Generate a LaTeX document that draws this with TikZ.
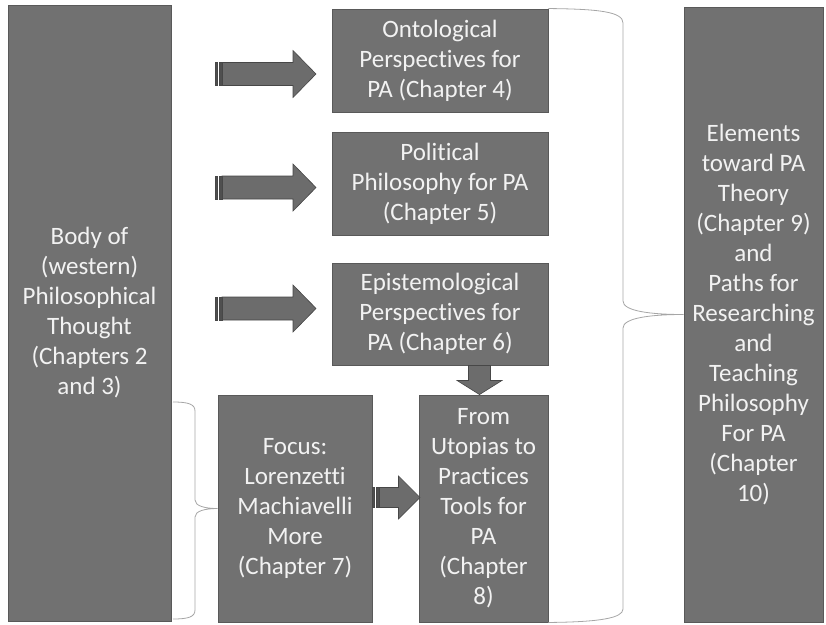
\documentclass[tikz,border=0pt]{standalone}
\usepackage{fontspec}
\setmainfont{Carlito}[Ligatures={NoCommon}]
\usetikzlibrary{calc}
\definecolor{boxfill}{HTML}{717171}
\definecolor{boxline}{HTML}{595959}
\definecolor{txtcol}{HTML}{F2F2F2}
\definecolor{arrfill}{HTML}{6C6C6C}
\definecolor{arrline}{HTML}{474747}
\definecolor{stripe}{HTML}{4F4F4F}
\definecolor{bracecol}{HTML}{A6A6A6}
\tikzset{
  box/.style={draw=boxline, fill=boxfill, line width=0.9pt, text=txtcol, align=center,
    inner sep=0pt, font=\fontsize{25}{30}\selectfont},
  blockarrow/.style={draw=arrline, fill=arrfill, line width=0.6pt, line join=miter},
  stripebar/.style={draw=arrline, fill=stripe, line width=0.4pt},
  bracestyle/.style={draw=bracecol, line width=0.8pt}
}
% right-pointing striped block arrow: #1 tail x, #2 tip x, #3 centre y, #4 body half, #5 head half, #6 head length
\newcommand{\StripedRightArrow}[6]{%
  \filldraw[blockarrow] (#1+7,#3-#4) -- (#2-#6,#3-#4) -- (#2-#6,#3-#5) -- (#2,#3)
     -- (#2-#6,#3+#5) -- (#2-#6,#3+#4) -- (#1+7,#3+#4) -- cycle;
  \filldraw[stripebar] (#1,#3-#4) rectangle (#1+2.6,#3+#4);
  \filldraw[stripebar] (#1+4,#3-#4) rectangle (#1+7,#3+#4);
}
\begin{document}
\begin{tikzpicture}[x=1pt,y=-1pt]
\useasboundingbox (0,0) rectangle (826,624);

% boxes
\node[box, minimum width=163pt, minimum height=616pt] (body) at (89.5,313)
  {Body of\\(western)\\Philosophical\\Thought\\(Chapters 2\\and 3)};
\node[box, minimum width=216pt, minimum height=103pt] (onto) at (440,60.5)
  {Ontological\\Perspectives for\\PA (Chapter 4)};
\node[box, minimum width=216pt, minimum height=103pt] (poli) at (440,183.5)
  {Political\\Philosophy for PA\\(Chapter 5)};
\node[box, minimum width=216pt, minimum height=102pt] (epis) at (440,314)
  {Epistemological\\Perspectives for\\PA (Chapter 6)};
\node[box, minimum width=154pt, minimum height=227pt] (focus) at (295,508.5)
  {Focus:\\Lorenzetti\\Machiavelli\\More\\(Chapter 7)};
\node[box, minimum width=129pt, minimum height=227pt] (utop) at (483.5,508.5)
  {From\\Utopias to\\Practices\\Tools for\\PA\\(Chapter\\8)};
\node[box, minimum width=139pt, minimum height=615pt] (elem) at (753.5,314.5)
  {Elements\\toward PA\\Theory\\(Chapter 9)\\and\\Paths for\\Researching\\and\\Teaching\\Philosophy\\For PA\\(Chapter\\10)};

% block arrows from the body column towards the boxes
\StripedRightArrow{215}{316}{74}{11.5}{23.5}{23}
\StripedRightArrow{215}{316}{187.5}{11.5}{23.5}{23}
\StripedRightArrow{215}{316}{308.5}{11.5}{23.5}{23}
% focus -> utopias
\StripedRightArrow{372}{420}{497.5}{10}{21.5}{21.5}

% down arrow from epistemological to utopias
\coordinate (dtop) at ($(epis.south)+(39.5,0)$);
\coordinate (dtip) at (dtop |- utop.north);
\filldraw[blockarrow] ($(dtop)+(-11,0)$) -- ($(dtop)+(11,0)$) -- ($(dtop)+(11,15)$)
   -- ($(dtop)+(22.5,15)$) -- (dtip) -- ($(dtop)+(-22.5,15)$) -- ($(dtop)+(-11,15)$) -- cycle;

% right brace
\draw[bracestyle] (onto.north east) .. controls (600,9) and (623,12) .. (623,23)
  -- (623,301) .. controls (623,311) and (650,314.5) .. (elem.west)
  .. controls (650,314.5) and (623,318) .. (623,328)
  -- (623,609) .. controls (623,618) and (600,622) .. (utop.south east);

% left brace
\coordinate (lbtop) at (173,402);
\coordinate (lbbot) at (173,619);
\draw[bracestyle] (lbtop) .. controls (188,402) and (195,404) .. (195,411)
  -- (195,500) .. controls (195,506) and (205,508.5) .. (focus.west)
  .. controls (205,508.5) and (195,511) .. (195,517)
  -- (195,610) .. controls (195,617) and (188,619) .. (lbbot);
\end{tikzpicture}
\end{document}
